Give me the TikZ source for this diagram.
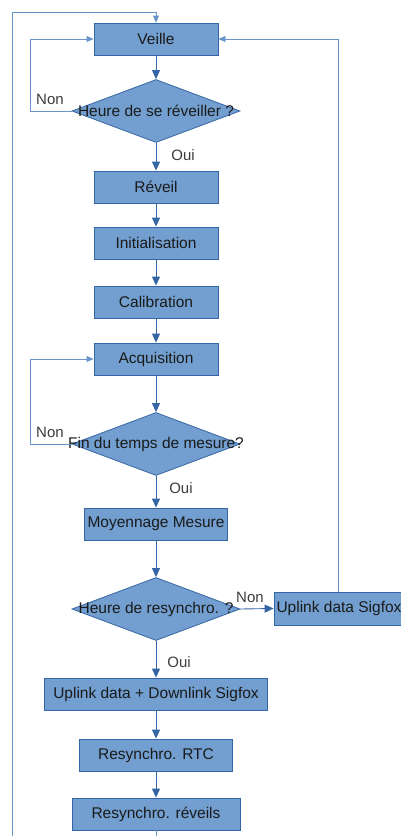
\documentclass[tikz,border=0pt]{standalone}
\usepackage{fontspec}
\setmainfont{Liberation Sans}
\usetikzlibrary{arrows.meta,shapes.geometric}
\definecolor{boxfill}{HTML}{729FCF}
\definecolor{boxline}{HTML}{3465A4}
\definecolor{conn}{HTML}{3465A4}
\definecolor{loopc}{HTML}{6A94C8}
\definecolor{txt}{HTML}{1A1A1A}
\tikzset{
  stepbox/.style={rectangle,fill=boxfill,draw=boxline,line width=0.8pt,inner sep=0pt,minimum height=32pt,text=txt,font=\fontsize{15.5}{17}\selectfont},
  dia/.style={diamond,fill=boxfill,draw=boxline,line width=0.8pt,inner sep=0pt,minimum width=168pt,minimum height=63pt},
  diatext/.style={text=txt,font=\fontsize{15.5}{17}\selectfont},
  lab/.style={text=txt!85,font=\fontsize{15}{17}\selectfont},
  arr/.style={draw=conn,line width=0.9pt,-{Triangle[width=8pt,length=9pt]}},
  looparr/.style={draw=loopc,line width=0.8pt,-{Triangle[width=6pt,length=7pt]}},
  loopline/.style={draw=loopc,line width=0.8pt}
}
\begin{document}
\begin{tikzpicture}[x=1pt,y=-1pt]
\useasboundingbox (0,0) rectangle (400,836);
\node[stepbox,minimum width=124pt] (veille) at (156,39) {Veille};
\node[dia] (d1) at (156,111) {};
\node[diatext] (d1t) at (156,111) {Heure de se réveiller ?};
\node[stepbox,minimum width=124pt] (reveil) at (156,187) {Réveil};
\node[stepbox,minimum width=124pt] (init) at (156,243) {Initialisation};
\node[stepbox,minimum width=124pt] (calib) at (156,302) {Calibration};
\node[stepbox,minimum width=124pt] (acq) at (156,359) {Acquisition};
\node[dia] (d2) at (156,444) {};
\node[diatext] (d2t) at (156,444) {Fin du temps de mesure?};
\node[stepbox,minimum width=143pt] (moy) at (156,524) {Moyennage Mesure};
\node[dia] (d3) at (156,609) {};
\node[diatext] (d3t) at (156,609) {Heure de resynchro. ?};
\node[stepbox,minimum width=130pt,minimum height=33pt] (upl) at (339,608.5) {Uplink data Sigfox};
\node[stepbox,minimum width=223pt] (updown) at (156,694) {Uplink data + Downlink Sigfox};
\node[stepbox,minimum width=153pt] (rtc) at (156,755) {Resynchro. RTC};
\node[stepbox,minimum width=168pt] (rrev) at (156,814) {Resynchro. réveils};

\coordinate (bot) at (156,840);
\coordinate (botl) at (12,840);
\coordinate (topl) at (12,12);
\coordinate (nl1) at (30,111);
\coordinate (nl2) at (30,444);
\coordinate (rtop) at (338,39);

\draw[arr] (veille) -- (d1);
\draw[arr] (d1) -- (reveil);
\draw[arr] (reveil) -- (init);
\draw[arr] (init) -- (calib);
\draw[arr] (calib) -- (acq);
\draw[arr] (acq) -- (d2);
\draw[arr] (d2) -- (moy);
\draw[arr] (moy) -- (d3);
\draw[arr] (d3) -- (updown);
\draw[arr] (updown) -- (rtc);
\draw[arr] (rtc) -- (rrev);
\draw[arr] (d3.east) -- (upl.west);
\draw[loopline] (rrev) -- (bot);

\draw[looparr] (d1.west) -- (nl1) |- (veille.west);
\draw[looparr] (d2.west) -- (nl2) |- (acq.west);
\draw[looparr] (botl) -- (topl) -| (veille.north);
\draw[looparr] (upl.north -| rtop) -- (rtop) -- (veille.east);

\node[lab] (n1) at (50,99) {Non};
\node[lab] (o1) at (183,155) {Oui};
\node[lab] (n2) at (50,432) {Non};
\node[lab] (o2) at (181,488) {Oui};
\node[lab] (n3) at (250,597) {Non};
\node[lab] (o3) at (179,662) {Oui};
\end{tikzpicture}
\end{document}
